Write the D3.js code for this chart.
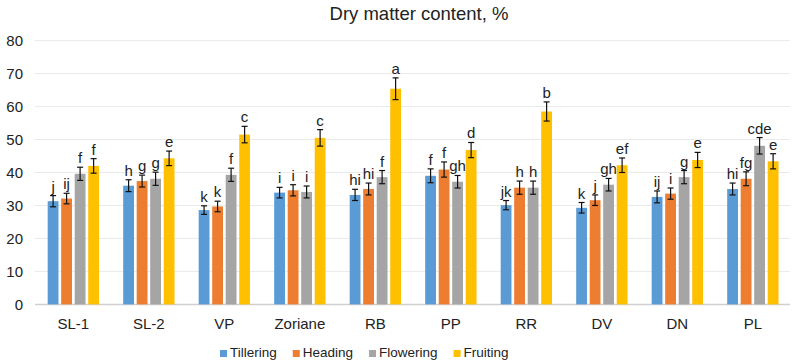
<!DOCTYPE html>
<html>
<head>
<meta charset="utf-8">
<script src="https://cdn.jsdelivr.net/npm/d3@7"></script>
<style>
  body { margin: 0; background: #fff; }
  text { font-family: "Liberation Sans", Arial, sans-serif; fill: #222; }
</style>
</head>
<body>
<div id="plot"></div>
<script>
const categories = ["SL-1", "SL-2", "VP", "Zoriane", "RB", "PP", "RR", "DV", "DN", "PL"];
const series = ["Tillering", "Heading", "Flowering", "Fruiting"];
const colors = ["#5B9BD5", "#ED7D31", "#A5A5A5", "#FFC000"];

const tillering = [31.3, 36.0, 28.6, 33.9, 33.2, 39.0, 30.1, 29.3, 32.6, 35.0];
const heading   = [32.1, 37.4, 29.7, 34.6, 35.0, 40.9, 35.4, 31.6, 33.6, 38.1];
const flowering = [39.6, 38.1, 39.3, 34.1, 38.6, 37.2, 35.4, 36.3, 38.6, 48.1];
const fruiting  = [42.0, 44.3, 51.5, 50.5, 65.4, 46.8, 58.5, 42.2, 43.8, 43.4];

const errTillering = [1.7, 1.8, 1.3, 1.6, 1.7, 2.1, 1.4, 1.6, 1.8, 1.8];
const errHeading   = [1.6, 1.8, 1.6, 1.7, 1.8, 2.3, 2.0, 1.6, 1.7, 2.1];
const errFlowering = [2.0, 2.0, 2.0, 1.8, 2.0, 1.9, 2.0, 1.9, 2.0, 2.5];
const errFruiting  = [2.2, 2.2, 2.5, 2.5, 3.3, 2.3, 2.9, 2.2, 2.3, 2.3];

const lettersTillering = ["j", "h", "k", "i", "hi", "f", "jk", "k", "ij", "hi"];
const lettersHeading   = ["ij", "g", "k", "i", "hi", "f", "h", "j", "i", "fg"];
const lettersFlowering = ["f", "g", "f", "i", "f", "gh", "h", "gh", "g", "cde"];
const lettersFruiting  = ["f", "e", "c", "c", "a", "d", "b", "ef", "e", "e"];

const yTicks = [0, 10, 20, 30, 40, 50, 60, 70, 80];

const values = [tillering, heading, flowering, fruiting];
const errors = [errTillering, errHeading, errFlowering, errFruiting];
const letters = [lettersTillering, lettersHeading, lettersFlowering, lettersFruiting];

const width = 800, height = 362;

const svg = d3.select("div#plot")
  .append("svg")
  .attr("width", width)
  .attr("height", height);

const x0 = d3.scaleBand()
  .domain(categories)
  .range([35.6, 790.6])
  .paddingInner(0.32)
  .paddingOuter(0.16);

const x1 = d3.scaleBand()
  .domain(series)
  .range([0, x0.bandwidth()])
  .paddingInner(0.2);

const y = d3.scaleLinear()
  .domain([0, 80])
  .range([304.4, 40.6]);

const color = d3.scaleOrdinal()
  .domain(series)
  .range(colors);

// gridlines
svg.append("g")
  .selectAll("line")
  .data(yTicks)
  .join("line")
  .attr("x1", 35)
  .attr("x2", 790)
  .attr("y1", function(d) { return y(d); })
  .attr("y2", function(d) { return y(d); })
  .attr("stroke", function(d) { return d === 0 ? "#D0D0D0" : "#EAEAEA"; })
  .attr("stroke-width", function(d) { return d === 0 ? 1.5 : 1; });

// y tick labels
svg.append("g")
  .selectAll("text")
  .data(yTicks)
  .join("text")
  .attr("x", 23)
  .attr("y", function(d) { return y(d); })
  .attr("dy", "0.35em")
  .style("text-anchor", "end")
  .style("font-size", "15px")
  .text(function(d) { return d; });

// x labels
svg.append("g")
  .selectAll("text")
  .data(categories)
  .join("text")
  .attr("x", function(d) { return x0(d) + x0.bandwidth() / 2; })
  .attr("y", 329)
  .style("text-anchor", "middle")
  .style("font-size", "15px")
  .text(function(d) { return d; });

// flatten data
const rows = [];
categories.forEach(function(c, i) {
  series.forEach(function(s, j) {
    rows.push({
      cat: c,
      key: s,
      value: values[j][i],
      err: errors[j][i],
      letter: letters[j][i]
    });
  });
});

const groups = svg.append("g")
  .selectAll("g")
  .data(rows)
  .join("g")
  .attr("transform", function(d) { return `translate(${x0(d.cat) + x1(d.key)}, 0)`; });

groups.append("rect")
  .attr("x", 0)
  .attr("width", x1.bandwidth())
  .attr("y", function(d) { return y(d.value); })
  .attr("height", function(d) { return y(0) - y(d.value); })
  .attr("fill", function(d) { return color(d.key); });

const bw = x1.bandwidth();
const cap = 3;

groups.append("line")
  .attr("x1", bw / 2).attr("x2", bw / 2)
  .attr("y1", function(d) { return y(d.value + d.err); })
  .attr("y2", function(d) { return y(d.value - d.err); })
  .attr("stroke", "#111")
  .attr("stroke-width", 1.2);

groups.append("line")
  .attr("x1", bw / 2 - cap).attr("x2", bw / 2 + cap)
  .attr("y1", function(d) { return y(d.value + d.err); })
  .attr("y2", function(d) { return y(d.value + d.err); })
  .attr("stroke", "#111")
  .attr("stroke-width", 1.2);

groups.append("line")
  .attr("x1", bw / 2 - cap).attr("x2", bw / 2 + cap)
  .attr("y1", function(d) { return y(d.value - d.err); })
  .attr("y2", function(d) { return y(d.value - d.err); })
  .attr("stroke", "#111")
  .attr("stroke-width", 1.2);

groups.append("text")
  .attr("x", bw / 2)
  .attr("y", function(d) { return y(d.value + d.err) - 4; })
  .style("text-anchor", "middle")
  .style("font-size", "15px")
  .text(function(d) { return d.letter; });

// title
svg.append("text")
  .attr("x", 419)
  .attr("y", 20)
  .style("text-anchor", "middle")
  .style("font-size", "18.5px")
  .text("Dry matter content, %");

// legend
const legend = svg.append("g");
let lx = 220;
series.forEach(function(s) {
  legend.append("rect")
    .attr("x", lx)
    .attr("y", 350)
    .attr("width", 7)
    .attr("height", 7)
    .attr("fill", color(s));
  const t = legend.append("text")
    .attr("x", lx + 10)
    .attr("y", 357)
    .style("font-size", "13.5px")
    .text(s);
  lx += 10 + t.node().getComputedTextLength() + 16;
});
</script>
</body>
</html>
